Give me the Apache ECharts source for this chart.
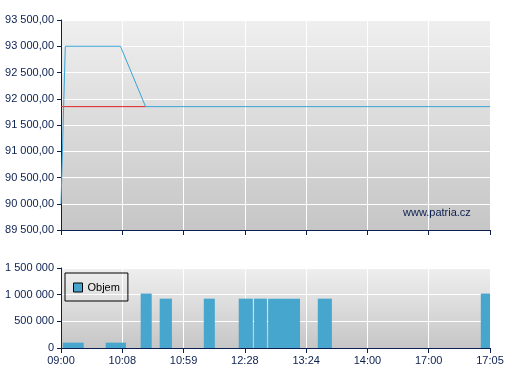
<!DOCTYPE html>
<html>
<head>
<meta charset="utf-8">
<script src="https://cdn.jsdelivr.net/npm/echarts@6/dist/echarts.min.js"></script>
<style>
html,body{margin:0;padding:0;background:#fff;}
#c{width:507px;height:380px;}
</style>
</head>
<body>
<div id="c"></div>
<script>
// tick labels of the (index-based) time axis
var tickLabels = ['09:00','10:08','10:59','12:28','13:24','14:00','17:00','17:05'];

// price line (x in axis slots, 0..7)
var priceX = [0, 0.02, 0.07, 0.97, 1.38, 7];
var priceY = [90000, 90000, 93000, 93000, 91850, 91850];

// reference (previous close) line
var refX = [0, 1.38];
var refY = [91850, 91850];

// volume bars: start slot, end slot, volume
var barStart = [0.03, 0.73, 1.30, 1.61, 2.33, 2.90, 3.15, 3.38, 4.19, 6.85];
var barEnd   = [0.37, 1.06, 1.48, 1.81, 2.51, 3.13, 3.36, 3.90, 4.42, 7.00];
var volumes  = [100000, 100000, 1020000, 925000, 925000, 925000, 925000, 925000, 925000, 1020000];

var navy = '#0b2050';
var font = 'Liberation Sans, Arial, sans-serif';

function fmtThousands(n) {
  return String(n).replace(/\B(?=(\d{3})+(?!\d))/g, ' ');
}
function fmtPrice(v) {
  var s = v.toFixed(2).split('.');
  return fmtThousands(s[0]) + ',' + s[1];
}

var bg = new echarts.graphic.LinearGradient(0, 0, 0, 1, [
  {offset: 0, color: '#efefef'},
  {offset: 1, color: '#c6c6c6'}
]);
var bg2 = new echarts.graphic.LinearGradient(0, 0, 0, 1, [
  {offset: 0, color: '#efefef'},
  {offset: 1, color: '#c6c6c6'}
]);

var priceData = priceX.map(function (x, i) { return [x, priceY[i]]; });
var refData = refX.map(function (x, i) { return [x, refY[i]]; });
var barData = barStart.map(function (s, i) { return [s, barEnd[i], volumes[i]]; });

var commonX = {
  type: 'value', min: 0, max: 7, interval: 1,
  axisLine: {show: true, lineStyle: {color: navy, width: 1}},
  axisTick: {show: true, length: 5, lineStyle: {color: navy}},
  splitLine: {show: true, lineStyle: {color: '#ffffff', width: 1}}
};

var chart = echarts.init(document.getElementById('c'), null, {renderer: 'canvas'});
chart.setOption({
  animation: false,
  textStyle: {fontFamily: font},
  grid: [
    {left: 61, right: 17, top: 20, height: 210, show: true, backgroundColor: bg, borderWidth: 0},
    {left: 61, right: 17, top: 268, height: 80, show: true, backgroundColor: bg2, borderWidth: 0}
  ],
  xAxis: [
    Object.assign({}, commonX, {gridIndex: 0, axisLabel: {show: false}}),
    Object.assign({}, commonX, {
      gridIndex: 1,
      axisLabel: {
        show: true, margin: 7, color: navy, fontSize: 11, fontFamily: font,
        formatter: function (v) { return tickLabels[Math.round(v)] || ''; }
      }
    })
  ],
  yAxis: [
    {
      gridIndex: 0, type: 'value', min: 89500, max: 93500, interval: 500,
      axisLine: {show: true, lineStyle: {color: navy, width: 1}},
      axisTick: {show: true, length: 4, lineStyle: {color: navy}},
      splitLine: {show: true, lineStyle: {color: '#ffffff', width: 1}},
      axisLabel: {margin: 7, color: navy, fontSize: 11, fontFamily: font, formatter: fmtPrice}
    },
    {
      gridIndex: 1, type: 'value', min: 0, max: 1500000, interval: 500000,
      axisLine: {show: true, lineStyle: {color: navy, width: 1}},
      axisTick: {show: true, length: 4, lineStyle: {color: navy}},
      splitLine: {show: true, lineStyle: {color: '#ffffff', width: 1}},
      axisLabel: {margin: 7, color: navy, fontSize: 11, fontFamily: font, formatter: fmtThousands}
    }
  ],
  legend: {
    data: [{name: 'Objem', icon: 'rect', itemStyle: {color: '#47a6cd', borderColor: '#000', borderWidth: 1}}],
    left: 65, top: 273,
    orient: 'vertical',
    padding: [9, 8, 8, 8],
    itemWidth: 9, itemHeight: 9, itemGap: 0,
    borderColor: '#000', borderWidth: 1, borderRadius: 0,
    backgroundColor: 'transparent',
    selectedMode: false,
    textStyle: {color: '#000', fontSize: 11, fontFamily: font}
  },
  graphic: [{
    type: 'text', left: 403, top: 207, z: 1,
    style: {text: 'www.patria.cz', fill: navy, font: '11px ' + font}
  }],
  series: [
    {
      name: 'ref', type: 'line', xAxisIndex: 0, yAxisIndex: 0,
      data: refData, symbol: 'none', silent: true,
      lineStyle: {color: '#e02525', width: 1}, z: 3
    },
    {
      name: 'Cena', type: 'line', xAxisIndex: 0, yAxisIndex: 0,
      data: priceData, symbol: 'none', silent: true,
      lineStyle: {color: '#3aa3d6', width: 1}, z: 4
    },
    {
      name: 'Objem', type: 'custom', xAxisIndex: 1, yAxisIndex: 1,
      data: barData,
      encode: {x: [0, 1], y: 2},
      itemStyle: {color: '#47a6cd'},
      clip: true,
      renderItem: function (params, api) {
        var p0 = api.coord([api.value(0), api.value(2)]);
        var p1 = api.coord([api.value(1), 0]);
        return {
          type: 'rect',
          shape: {x: p0[0], y: p0[1], width: p1[0] - p0[0], height: p1[1] - p0[1]},
          style: {fill: '#47a6cd'}
        };
      }
    }
  ]
});
</script>
</body>
</html>
